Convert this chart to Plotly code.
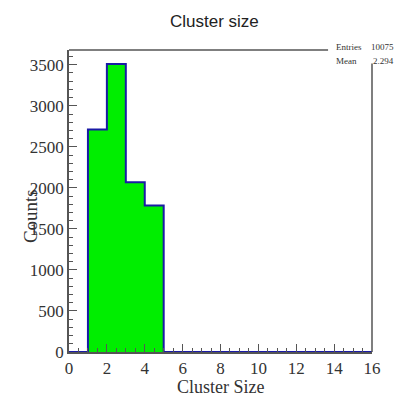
import plotly.graph_objects as go

# Data
bin_edges = list(range(0, 17))
counts = [0, 2710, 3510, 2070, 1785, 0, 0, 0, 0, 0, 0, 0, 0, 0, 0, 0]
title_text = "Cluster size"
x_title = "Cluster Size"
y_title = "Counts"
stats_labels = ["Entries", "Mean"]
stats_values = ["10075", "2.294"]

xs = bin_edges[:-1] + [bin_edges[-1]]
ys = counts + [counts[-1]]

fig = go.Figure()
fig.add_trace(go.Scatter(
    x=xs, y=ys, mode="lines", line=dict(shape="hv", color="#1a1aa6", width=2),
    fill="tozeroy", fillcolor="#00ee00", hoverinfo="skip", showlegend=False,
))

serif = "Liberation Serif, Times New Roman, serif"
axis_common = dict(
    showline=True, linecolor="#555555", linewidth=1.5, ticks="inside",
    tickcolor="#555555", tickfont=dict(family=serif, size=17, color="#333333"),
    showgrid=False, zeroline=False,
)
fig.update_xaxes(range=[0, 16], tickmode="linear", tick0=0, dtick=2, ticklen=8,
                 minor=dict(dtick=0.5, ticklen=4, ticks="inside", tickcolor="#555555"),
                 **axis_common)
fig.update_yaxes(range=[0, 3680], tickmode="linear", tick0=0, dtick=500, ticklen=8,
                 minor=dict(dtick=100, ticklen=4, ticks="inside", tickcolor="#555555"),
                 **axis_common)

# frame: top line (stopped by stats box) and right line
fig.add_shape(type="line", xref="paper", yref="paper", x0=0, x1=0.855, y0=1, y1=1,
              line=dict(color="#555555", width=1.5))
fig.add_shape(type="line", xref="paper", yref="paper", x0=1, x1=1, y0=0, y1=0.955,
              line=dict(color="#555555", width=1.5))

# title & axis titles
fig.add_annotation(text=title_text, xref="paper", yref="paper", x=0.48, y=1.0,
                   yanchor="bottom", yshift=17, showarrow=False,
                   font=dict(family="Liberation Sans, Arial, sans-serif", size=17, color="#222222"))
fig.add_annotation(text=x_title, xref="paper", yref="paper", x=0.5, y=0, yanchor="top",
                   yshift=-23, showarrow=False, font=dict(family=serif, size=18, color="#333333"))
fig.add_annotation(text=y_title, xref="paper", yref="paper", x=0, xanchor="center", xshift=-39,
                   y=0.45, textangle=-90, showarrow=False,
                   font=dict(family=serif, size=19, color="#333333"))

# stats box
for i, (lab, val) in enumerate(zip(stats_labels, stats_values)):
    yy = 1.025 - i * 0.045
    fig.add_annotation(text=lab, xref="paper", yref="paper", x=0.875, y=yy, xanchor="left",
                       yshift=2, showarrow=False, font=dict(family=serif, size=9, color="#333333"))
    fig.add_annotation(text=val, xref="paper", yref="paper", x=1.08, y=yy, xanchor="right",
                       yshift=2, showarrow=False, font=dict(family=serif, size=9, color="#333333"))

fig.update_layout(
    width=411, height=404, margin=dict(l=69, r=39, t=50, b=52),
    plot_bgcolor="white", paper_bgcolor="white",
)
fig.write_html("out.html")
